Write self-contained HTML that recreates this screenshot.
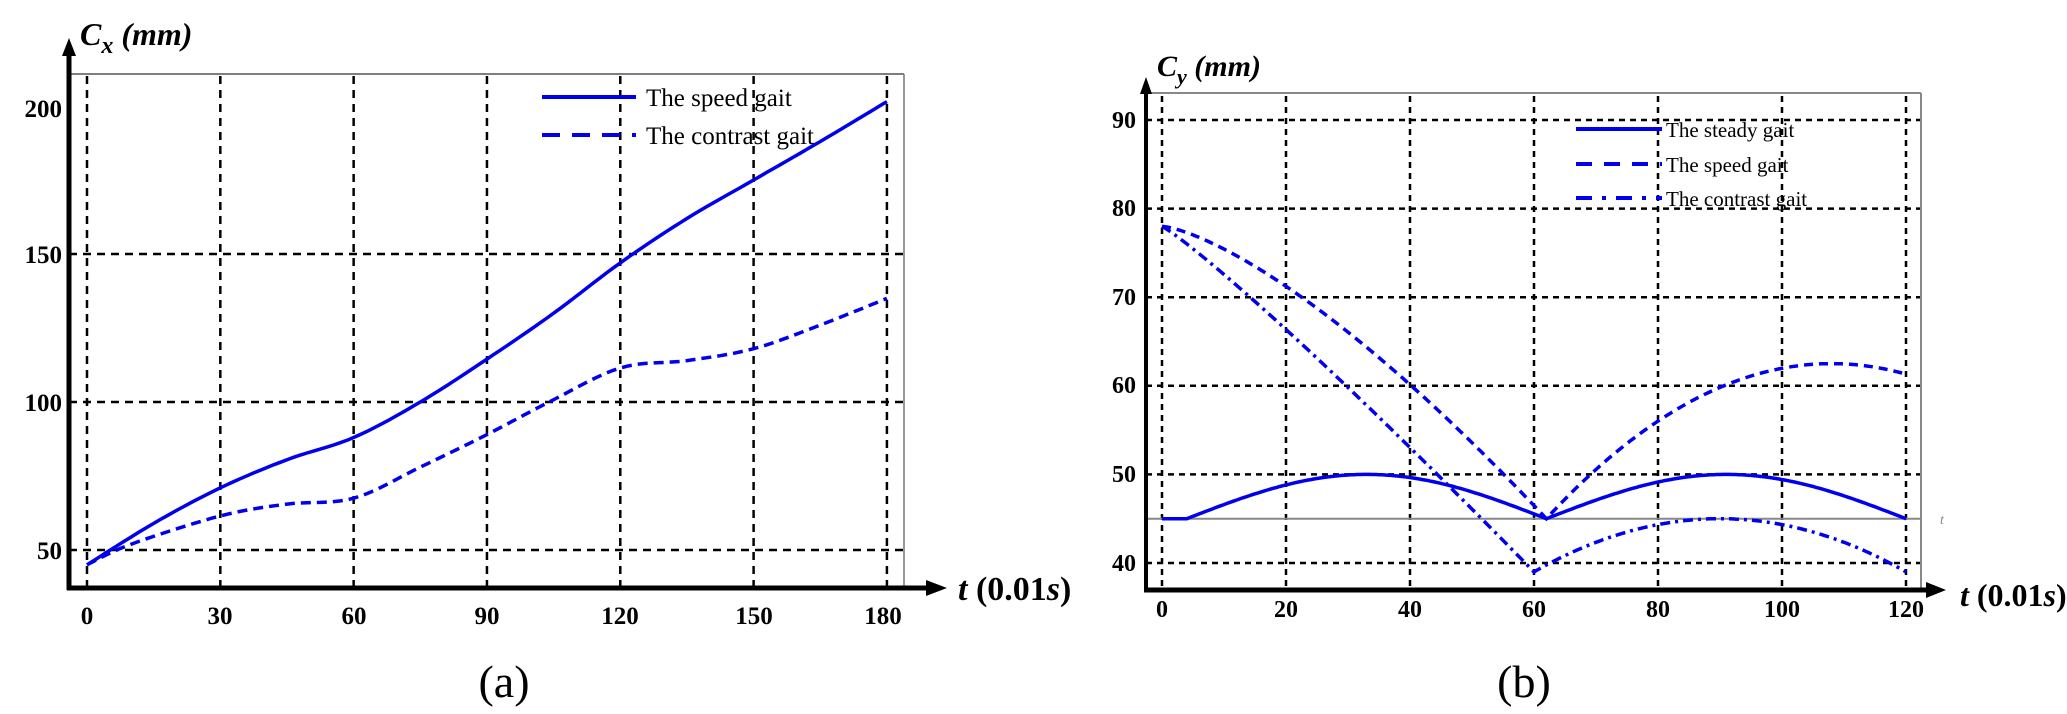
<!DOCTYPE html>
<html><head><meta charset="utf-8"><style>
html,body{margin:0;padding:0;background:#fff;}
svg{display:block;}
</style></head><body>
<svg id="s" width="2067" height="714" xmlns="http://www.w3.org/2000/svg" font-family="Liberation Serif, serif">
<!-- Chart A -->
<g id="ga" stroke="#000" stroke-width="2.5" stroke-dasharray="8 6" fill="none">
</g>
<line x1="69" y1="74" x2="904" y2="74" stroke="#555" stroke-width="1.5"/>
<line x1="904" y1="74" x2="904" y2="588" stroke="#777" stroke-width="1.5"/>
<line x1="69" y1="590" x2="69" y2="52" stroke="#000" stroke-width="5"/>
<polygon points="69,38 62,56 76,56" fill="#000"/>
<line x1="67" y1="588" x2="930" y2="588" stroke="#000" stroke-width="5"/>
<polygon points="947,588 926,580 926,596" fill="#000"/>
<g font-weight="bold" font-size="25" text-anchor="end">
<text x="62" y="117">200</text><text x="62" y="263">150</text><text x="62" y="411">100</text><text x="62" y="559">50</text>
</g>
<g font-weight="bold" font-size="25" text-anchor="middle">
<text x="87" y="624">0</text><text x="220" y="624">30</text><text x="354" y="624">60</text><text x="487" y="624">90</text><text x="620" y="624">120</text><text x="754" y="624">150</text><text x="883" y="624">180</text>
</g>
<text x="80" y="45" font-size="32" font-weight="bold" font-style="italic">C<tspan font-size="24" dy="8">x</tspan><tspan dy="-8"> (mm)</tspan></text>
<text x="958" y="600" font-size="34" font-weight="bold"><tspan font-style="italic">t</tspan> (0.01<tspan font-style="italic">s</tspan>)</text>
<text x="504" y="697" font-size="46" text-anchor="middle">(a)</text>
<line x1="542" y1="97" x2="636" y2="97" stroke="#0000ee" stroke-width="4"/>
<line x1="542" y1="135" x2="636" y2="135" stroke="#0000ee" stroke-width="4" stroke-dasharray="18 12"/>
<text x="646" y="106" font-size="25">The speed gait</text>
<text x="646" y="144" font-size="25">The contrast gait</text>
<path id="a1" fill="none" stroke="#0000ee" stroke-width="3.5"/>
<path id="a2" fill="none" stroke="#0000ee" stroke-width="3.5" stroke-dasharray="10 6"/>

<!-- Chart B -->
<g id="gb" stroke="#000" stroke-width="2.5" stroke-dasharray="6 5" fill="none"></g>
<line x1="1146" y1="93" x2="1921" y2="93" stroke="#888" stroke-width="2"/>
<line x1="1921" y1="93" x2="1921" y2="590" stroke="#888" stroke-width="2"/>
<line x1="1146" y1="518.7" x2="1921" y2="518.7" stroke="#888" stroke-width="2"/>
<text x="1940" y="524" font-size="14" fill="#888" font-style="italic">t</text>
<line x1="1146" y1="592" x2="1146" y2="90" stroke="#000" stroke-width="4"/>
<polygon points="1146,77 1140,94 1152,94" fill="#000"/>
<line x1="1144" y1="590" x2="1930" y2="590" stroke="#000" stroke-width="5"/>
<polygon points="1946,590 1926,582 1926,598" fill="#000"/>
<g font-weight="bold" font-size="24" text-anchor="end">
<text x="1136" y="128">90</text><text x="1136" y="216">80</text><text x="1136" y="305">70</text><text x="1136" y="393">60</text><text x="1136" y="482">50</text><text x="1136" y="571">40</text>
</g>
<g font-weight="bold" font-size="24" text-anchor="middle">
<text x="1162" y="617">0</text><text x="1286" y="617">20</text><text x="1410" y="617">40</text><text x="1534" y="617">60</text><text x="1658" y="617">80</text><text x="1782" y="617">100</text><text x="1906" y="617">120</text>
</g>
<text x="1157" y="76" font-size="30" font-weight="bold" font-style="italic">C<tspan font-size="22" dy="8">y</tspan><tspan dy="-8"> (mm)</tspan></text>
<text x="1960" y="606" font-size="32" font-weight="bold"><tspan font-style="italic">t</tspan> (0.01<tspan font-style="italic">s</tspan>)</text>
<text x="1524" y="697" font-size="46" text-anchor="middle">(b)</text>
<line x1="1576" y1="129" x2="1662" y2="129" stroke="#0000ee" stroke-width="4"/>
<line x1="1576" y1="164" x2="1662" y2="164" stroke="#0000ee" stroke-width="4" stroke-dasharray="16 12"/>
<line x1="1576" y1="198" x2="1662" y2="198" stroke="#0000ee" stroke-width="4" stroke-dasharray="16 10 4 10"/>
<g font-size="21"><text x="1666" y="137">The steady gait</text><text x="1666" y="172">The speed gait</text><text x="1666" y="206">The contrast gait</text></g>
<path id="b1" fill="none" stroke="#0000ee" stroke-width="3.5"/>
<path id="b2" fill="none" stroke="#0000ee" stroke-width="3.5" stroke-dasharray="9 6"/>
<path id="b3" fill="none" stroke="#0000ee" stroke-width="3.5" stroke-dasharray="10 5 3 5"/>
</svg>
<script>
(function(){
var NS="http://www.w3.org/2000/svg";
function ln(g,x1,y1,x2,y2){var l=document.createElementNS(NS,"line");l.setAttribute("x1",x1);l.setAttribute("y1",y1);l.setAttribute("x2",x2);l.setAttribute("y2",y2);g.appendChild(l);}
var ga=document.getElementById("ga");
var XA=function(t){return 87+t*4.444;},YA=function(v){return 550-(v-50)*2.96;};
for(var t=0;t<=180;t+=30)ln(ga,XA(t),76,XA(t),588);
[50,100,150].forEach(function(v){ln(ga,69,YA(v),904,YA(v));});
function interp(pts,X,Y){var s="";var n=pts.length;
 // Catmull-Rom sampled
 var out=[];
 for(var i=0;i<n-1;i++){var p0=pts[Math.max(0,i-1)],p1=pts[i],p2=pts[i+1],p3=pts[Math.min(n-1,i+2)];
  for(var k=0;k<10;k++){var u=k/10,u2=u*u,u3=u2*u;
   var f=function(a,b,c,d){return 0.5*((2*b)+(-a+c)*u+(2*a-5*b+4*c-d)*u2+(-a+3*b-3*c+d)*u3);};
   out.push([f(p0[0],p1[0],p2[0],p3[0]),f(p0[1],p1[1],p2[1],p3[1])]);}}
 out.push(pts[n-1]);
 return out.map(function(p,i){return (i?"L":"M")+X(p[0]).toFixed(1)+" "+Y(p[1]).toFixed(1);}).join("");}
document.getElementById("a1").setAttribute("d",interp([[0,45],[15,59],[30,71],[45,80.5],[60,88],[75,100],[90,114.5],[105,130],[120,147],[135,162],[150,175],[165,188],[180,201.5]],XA,YA));
document.getElementById("a2").setAttribute("d",interp([[0,45],[10,52],[30,61.5],[45,65.5],[60,67.5],[75,78],[90,89],[104,100],[120,111.5],[135,114],[150,118],[165,126],[180,135]],XA,YA));
var gb=document.getElementById("gb");
var XB=function(t){return 1162+t*6.2;},YB=function(v){return 120+(90-v)*8.86;};
for(var t=0;t<=120;t+=20)ln(gb,XB(t),96,XB(t),590);
[90,80,70,60,50,40].forEach(function(v){ln(gb,1146,YB(v),1921,YB(v));});
function fn(f,a,b){var s="";for(var t=a;t<=b+1e-9;t+=0.5){s+=(t==a?"M":"L")+XB(t).toFixed(1)+" "+YB(f(t)).toFixed(1);}return s;}
document.getElementById("b1").setAttribute("d",fn(function(t){if(t<4)return 45;if(t<=62)return 45+5*Math.sin(Math.PI*(t-4)/58);return 45+5*Math.sin(Math.PI*(t-62)/58);},0,120));
document.getElementById("b2").setAttribute("d",fn(function(t){if(t<=62)return 78-33*Math.pow(t/62,1.4);var r=(108-t)/46;return 62.5-17.5*r*r;},0,120));
document.getElementById("b3").setAttribute("d",fn(function(t){if(t<=60)return 78-39*Math.pow(t/60,1.1);var r=(t-90)/30;return 45-6*r*r;},0,120));
})();
</script>
</body></html>
